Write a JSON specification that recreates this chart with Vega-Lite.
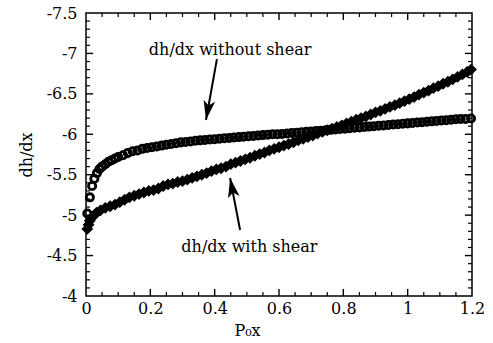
{
  "$schema": "https://vega.github.io/schema/vega-lite/v6.json",
  "width": 386,
  "height": 283,
  "autosize": "none",
  "padding": {"left": 86, "top": 13, "right": 21, "bottom": 47},
  "background": "white",
  "datasets": {
    "noshear": [
      {"x": 0.004, "y": -5.02}, {"x": 0.012, "y": -5.22}, {"x": 0.019, "y": -5.36}, {"x": 0.026, "y": -5.45},
      {"x": 0.034, "y": -5.52}, {"x": 0.042, "y": -5.57}, {"x": 0.05, "y": -5.6}, {"x": 0.06, "y": -5.63},
      {"x": 0.07, "y": -5.66}, {"x": 0.08, "y": -5.68}, {"x": 0.09, "y": -5.7}, {"x": 0.1, "y": -5.72},
      {"x": 0.115, "y": -5.74}, {"x": 0.13, "y": -5.77}, {"x": 0.145, "y": -5.79}, {"x": 0.16, "y": -5.8},
      {"x": 0.175, "y": -5.82}, {"x": 0.19, "y": -5.83}, {"x": 0.205, "y": -5.84}, {"x": 0.22, "y": -5.85},
      {"x": 0.235, "y": -5.86}, {"x": 0.25, "y": -5.87}, {"x": 0.265, "y": -5.88}, {"x": 0.28, "y": -5.89},
      {"x": 0.295, "y": -5.9}, {"x": 0.31, "y": -5.905}, {"x": 0.325, "y": -5.91}, {"x": 0.34, "y": -5.92},
      {"x": 0.355, "y": -5.925}, {"x": 0.37, "y": -5.93}, {"x": 0.385, "y": -5.935}, {"x": 0.4, "y": -5.94},
      {"x": 0.415, "y": -5.945}, {"x": 0.43, "y": -5.95}, {"x": 0.445, "y": -5.955}, {"x": 0.46, "y": -5.96},
      {"x": 0.475, "y": -5.965}, {"x": 0.49, "y": -5.97}, {"x": 0.505, "y": -5.975}, {"x": 0.52, "y": -5.98},
      {"x": 0.535, "y": -5.985}, {"x": 0.55, "y": -5.99}, {"x": 0.565, "y": -5.995}, {"x": 0.58, "y": -6.0},
      {"x": 0.595, "y": -6.0}, {"x": 0.61, "y": -6.005}, {"x": 0.625, "y": -6.01}, {"x": 0.64, "y": -6.015},
      {"x": 0.655, "y": -6.02}, {"x": 0.67, "y": -6.025}, {"x": 0.685, "y": -6.03}, {"x": 0.7, "y": -6.035},
      {"x": 0.715, "y": -6.04}, {"x": 0.73, "y": -6.045}, {"x": 0.745, "y": -6.05}, {"x": 0.76, "y": -6.055},
      {"x": 0.775, "y": -6.06}, {"x": 0.79, "y": -6.065}, {"x": 0.805, "y": -6.07}, {"x": 0.82, "y": -6.075},
      {"x": 0.835, "y": -6.08}, {"x": 0.85, "y": -6.085}, {"x": 0.865, "y": -6.09}, {"x": 0.88, "y": -6.095},
      {"x": 0.895, "y": -6.1}, {"x": 0.91, "y": -6.105}, {"x": 0.925, "y": -6.11}, {"x": 0.94, "y": -6.115},
      {"x": 0.955, "y": -6.12}, {"x": 0.97, "y": -6.125}, {"x": 0.985, "y": -6.13}, {"x": 1.0, "y": -6.135},
      {"x": 1.015, "y": -6.14}, {"x": 1.03, "y": -6.145}, {"x": 1.045, "y": -6.15}, {"x": 1.06, "y": -6.155},
      {"x": 1.075, "y": -6.16}, {"x": 1.09, "y": -6.165}, {"x": 1.105, "y": -6.17}, {"x": 1.12, "y": -6.175},
      {"x": 1.135, "y": -6.18}, {"x": 1.15, "y": -6.185}, {"x": 1.165, "y": -6.19}, {"x": 1.18, "y": -6.19},
      {"x": 1.197, "y": -6.195}
    ],
    "shear": [
      {"x": 0.004, "y": -4.83}, {"x": 0.008, "y": -4.88}, {"x": 0.012, "y": -4.93}, {"x": 0.018, "y": -4.97},
      {"x": 0.025, "y": -5.0}, {"x": 0.033, "y": -5.03}, {"x": 0.045, "y": -5.06}, {"x": 0.06, "y": -5.09},
      {"x": 0.075, "y": -5.11}, {"x": 0.09, "y": -5.13}, {"x": 0.105, "y": -5.16}, {"x": 0.12, "y": -5.19},
      {"x": 0.135, "y": -5.22}, {"x": 0.15, "y": -5.24}, {"x": 0.165, "y": -5.26}, {"x": 0.18, "y": -5.28},
      {"x": 0.195, "y": -5.3}, {"x": 0.21, "y": -5.31}, {"x": 0.225, "y": -5.33}, {"x": 0.24, "y": -5.36},
      {"x": 0.255, "y": -5.38}, {"x": 0.27, "y": -5.39}, {"x": 0.285, "y": -5.41}, {"x": 0.3, "y": -5.42},
      {"x": 0.315, "y": -5.44}, {"x": 0.33, "y": -5.46}, {"x": 0.345, "y": -5.48}, {"x": 0.36, "y": -5.5},
      {"x": 0.375, "y": -5.52}, {"x": 0.39, "y": -5.545}, {"x": 0.405, "y": -5.565}, {"x": 0.42, "y": -5.58},
      {"x": 0.435, "y": -5.6}, {"x": 0.45, "y": -5.63}, {"x": 0.465, "y": -5.65}, {"x": 0.48, "y": -5.67},
      {"x": 0.495, "y": -5.69}, {"x": 0.51, "y": -5.71}, {"x": 0.525, "y": -5.735}, {"x": 0.54, "y": -5.755},
      {"x": 0.555, "y": -5.775}, {"x": 0.57, "y": -5.8}, {"x": 0.585, "y": -5.82}, {"x": 0.6, "y": -5.84},
      {"x": 0.615, "y": -5.86}, {"x": 0.63, "y": -5.88}, {"x": 0.645, "y": -5.9}, {"x": 0.66, "y": -5.925},
      {"x": 0.675, "y": -5.945}, {"x": 0.69, "y": -5.965}, {"x": 0.705, "y": -5.985}, {"x": 0.72, "y": -6.01},
      {"x": 0.735, "y": -6.03}, {"x": 0.75, "y": -6.05}, {"x": 0.765, "y": -6.07}, {"x": 0.78, "y": -6.09},
      {"x": 0.795, "y": -6.11}, {"x": 0.81, "y": -6.135}, {"x": 0.825, "y": -6.155}, {"x": 0.84, "y": -6.18},
      {"x": 0.855, "y": -6.2}, {"x": 0.87, "y": -6.22}, {"x": 0.885, "y": -6.245}, {"x": 0.9, "y": -6.27},
      {"x": 0.915, "y": -6.29}, {"x": 0.93, "y": -6.315}, {"x": 0.945, "y": -6.34}, {"x": 0.96, "y": -6.36},
      {"x": 0.975, "y": -6.385}, {"x": 0.99, "y": -6.41}, {"x": 1.005, "y": -6.435}, {"x": 1.02, "y": -6.46},
      {"x": 1.035, "y": -6.49}, {"x": 1.05, "y": -6.515}, {"x": 1.065, "y": -6.54}, {"x": 1.08, "y": -6.57},
      {"x": 1.095, "y": -6.595}, {"x": 1.11, "y": -6.625}, {"x": 1.125, "y": -6.65}, {"x": 1.14, "y": -6.68},
      {"x": 1.155, "y": -6.71}, {"x": 1.17, "y": -6.74}, {"x": 1.185, "y": -6.77}, {"x": 1.197, "y": -6.8}
    ],
    "labels": [
      {"x": 0.448, "y": -6.98, "text": "dh/dx without shear"},
      {"x": 0.508, "y": -4.544, "text": "dh/dx with shear"}
    ],
    "arrows": [
      {"name": "without", "tailx": 0.407, "taily": -6.93, "tipx": 0.373, "tipy": -6.177},
      {"name": "with", "tailx": 0.479, "taily": -4.816, "tipx": 0.448, "tipy": -5.459}
    ],
    "xmajor": [{"v": 0.2}, {"v": 0.4}, {"v": 0.6}, {"v": 0.8}, {"v": 1.0}],
    "xminor": [
      {"v": 0.05}, {"v": 0.1}, {"v": 0.15}, {"v": 0.25}, {"v": 0.3}, {"v": 0.35}, {"v": 0.45}, {"v": 0.5}, {"v": 0.55},
      {"v": 0.65}, {"v": 0.7}, {"v": 0.75}, {"v": 0.85}, {"v": 0.9}, {"v": 0.95}, {"v": 1.05}, {"v": 1.1}, {"v": 1.15}
    ],
    "ymajor": [{"v": -7}, {"v": -6.5}, {"v": -6}, {"v": -5.5}, {"v": -5}, {"v": -4.5}],
    "yminor": [
      {"v": -7.4}, {"v": -7.3}, {"v": -7.2}, {"v": -7.1}, {"v": -6.9}, {"v": -6.8}, {"v": -6.7}, {"v": -6.6},
      {"v": -6.4}, {"v": -6.3}, {"v": -6.2}, {"v": -6.1}, {"v": -5.9}, {"v": -5.8}, {"v": -5.7}, {"v": -5.6},
      {"v": -5.4}, {"v": -5.3}, {"v": -5.2}, {"v": -5.1}, {"v": -4.9}, {"v": -4.8}, {"v": -4.7}, {"v": -4.6},
      {"v": -4.4}, {"v": -4.3}, {"v": -4.2}, {"v": -4.1}
    ]
  },
  "layer": [
    {
      "data": {"name": "noshear"},
      "mark": {"type": "point", "shape": "circle", "filled": false, "color": "black", "size": 52, "strokeWidth": 2.8, "opacity": 1},
      "encoding": {
        "x": {"field": "x", "type": "quantitative",
          "scale": {"domain": [0, 1.2], "nice": false, "zero": false},
          "axis": {"orient": "bottom", "values": [0, 0.2, 0.4, 0.6, 0.8, 1, 1.2], "ticks": false, "labelPadding": 4, "labelExpr": "'' + datum.value", "title": "P₀x", "titlePadding": 6, "titleX": 161, "titleAnchor": null}},
        "y": {"field": "y", "type": "quantitative",
          "scale": {"domain": [-7.5, -4], "reverse": true, "nice": false, "zero": false},
          "axis": {"orient": "left", "values": [-7.5, -7, -6.5, -6, -5.5, -5, -4.5, -4], "ticks": false, "labelPadding": 9, "labelExpr": "'-' + (-datum.value)", "title": "dh/dx", "titlePadding": 12}}
      }
    },
    {
      "data": {"name": "shear"},
      "mark": {"type": "point", "shape": "diamond", "filled": true, "color": "black", "size": 140, "opacity": 1},
      "encoding": {
        "x": {"field": "x", "type": "quantitative"},
        "y": {"field": "y", "type": "quantitative"}
      }
    },
    {
      "data": {"name": "labels"},
      "mark": {"type": "text", "font": "DejaVu Serif", "fontSize": 16, "color": "black", "align": "center", "baseline": "alphabetic"},
      "encoding": {
        "x": {"field": "x", "type": "quantitative"},
        "y": {"field": "y", "type": "quantitative"},
        "text": {"field": "text"}
      }
    },
    {
      "data": {"name": "arrows"},
      "mark": {"type": "rule", "color": "black", "strokeWidth": 2},
      "encoding": {
        "x": {"field": "tailx", "type": "quantitative"},
        "y": {"field": "taily", "type": "quantitative"},
        "x2": {"field": "tipx"},
        "y2": {"field": "tipy"}
      }
    },
    {
      "data": {"name": "arrows"},
      "transform": [{"filter": "datum.name === 'without'"}],
      "mark": {"type": "point", "shape": "M0,0 L-0.6,-2 L0,-1.5 L0.6,-2 Z", "filled": true, "color": "black", "size": 380, "angle": 10, "opacity": 1},
      "encoding": {
        "x": {"field": "tipx", "type": "quantitative"},
        "y": {"field": "tipy", "type": "quantitative"}
      }
    },
    {
      "data": {"name": "arrows"},
      "transform": [{"filter": "datum.name === 'with'"}],
      "mark": {"type": "point", "shape": "M0,0 L-0.6,-2 L0,-1.5 L0.6,-2 Z", "filled": true, "color": "black", "size": 380, "angle": 169, "opacity": 1},
      "encoding": {
        "x": {"field": "tipx", "type": "quantitative"},
        "y": {"field": "tipy", "type": "quantitative"}
      }
    },
    {
      "data": {"name": "xmajor"},
      "mark": {"type": "rule", "color": "black", "strokeWidth": 1.4},
      "encoding": {
        "x": {"field": "v", "type": "quantitative"},
        "y": {"datum": -4, "type": "quantitative"},
        "y2": {"datum": -4.087}
      }
    },
    {
      "data": {"name": "xmajor"},
      "mark": {"type": "rule", "color": "black", "strokeWidth": 1.4},
      "encoding": {
        "x": {"field": "v", "type": "quantitative"},
        "y": {"datum": -7.5, "type": "quantitative"},
        "y2": {"datum": -7.413}
      }
    },
    {
      "data": {"name": "xminor"},
      "mark": {"type": "rule", "color": "black", "strokeWidth": 1.2},
      "encoding": {
        "x": {"field": "v", "type": "quantitative"},
        "y": {"datum": -4, "type": "quantitative"},
        "y2": {"datum": -4.05}
      }
    },
    {
      "data": {"name": "xminor"},
      "mark": {"type": "rule", "color": "black", "strokeWidth": 1.2},
      "encoding": {
        "x": {"field": "v", "type": "quantitative"},
        "y": {"datum": -7.5, "type": "quantitative"},
        "y2": {"datum": -7.45}
      }
    },
    {
      "data": {"name": "ymajor"},
      "mark": {"type": "rule", "color": "black", "strokeWidth": 1.4},
      "encoding": {
        "y": {"field": "v", "type": "quantitative"},
        "x": {"datum": 0, "type": "quantitative"},
        "x2": {"datum": 0.022}
      }
    },
    {
      "data": {"name": "ymajor"},
      "mark": {"type": "rule", "color": "black", "strokeWidth": 1.4},
      "encoding": {
        "y": {"field": "v", "type": "quantitative"},
        "x": {"datum": 1.2, "type": "quantitative"},
        "x2": {"datum": 1.178}
      }
    },
    {
      "data": {"name": "yminor"},
      "mark": {"type": "rule", "color": "black", "strokeWidth": 1.2},
      "encoding": {
        "y": {"field": "v", "type": "quantitative"},
        "x": {"datum": 0, "type": "quantitative"},
        "x2": {"datum": 0.0125}
      }
    },
    {
      "data": {"name": "yminor"},
      "mark": {"type": "rule", "color": "black", "strokeWidth": 1.2},
      "encoding": {
        "y": {"field": "v", "type": "quantitative"},
        "x": {"datum": 1.2, "type": "quantitative"},
        "x2": {"datum": 1.1875}
      }
    }
  ],
  "config": {
    "view": {"stroke": "black", "strokeWidth": 1.5},
    "axis": {
      "grid": false, "domain": false,
      "labelColor": "black", "titleColor": "black",
      "labelFont": "DejaVu Serif", "titleFont": "DejaVu Serif",
      "labelFontSize": 16, "titleFontSize": 16, "titleFontWeight": "normal",
      "labelFlush": false, "labelOverlap": false
    }
  }
}
